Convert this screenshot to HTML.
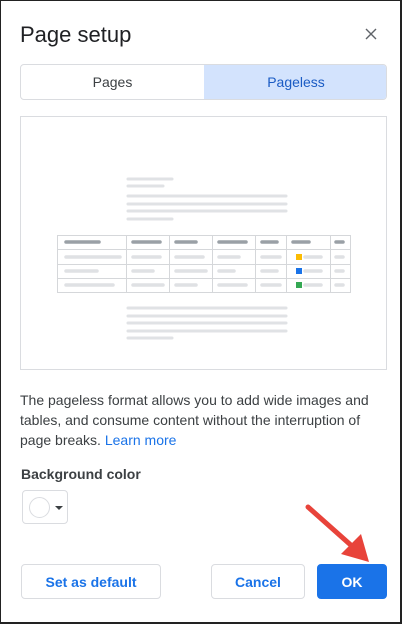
<!DOCTYPE html>
<html><head><meta charset="utf-8"><style>
*{margin:0;padding:0;box-sizing:border-box}
html,body{width:402px;height:624px;overflow:hidden;background:#fff}
body{font-family:"Liberation Sans",sans-serif;position:relative;border:1px solid #222;border-right-width:2px;border-bottom-width:2px}
.a{position:absolute;white-space:nowrap}
.btn{position:absolute;border:1px solid #dadce0;border-radius:4px;color:#1a73e8;font-size:14px;font-weight:bold;display:flex;align-items:center;justify-content:center;background:#fff}
</style></head><body>
<div class="a" style="left:19px;top:21px;font-size:22px;color:#202124">Page setup</div>
<svg class="a" style="left:364px;top:27px" width="12" height="12"><path d="M1 1L11 11M11 1L1 11" stroke="#5f6368" stroke-width="1.4"/></svg>
<div class="a" style="left:19px;top:63px;width:367px;height:36px;border:1px solid #dadce0;border-radius:4px;overflow:hidden;font-size:14px">
 <div class="a" style="left:0;top:0;width:183px;height:34px;display:flex;align-items:center;justify-content:center;color:#3c4043">Pages</div>
 <div class="a" style="left:183px;top:0;width:184px;height:34px;background:#d3e3fd;display:flex;align-items:center;justify-content:center;color:#1a5bc4">Pageless</div>
</div>
<div class="a" style="left:19px;top:115px;width:367px;height:254px;border:1px solid #dadce0"></div>
<svg class="a" style="left:0;top:0" width="402" height="624">
 <g stroke="#e0e2e5" stroke-width="3" stroke-linecap="round">
  <line x1="127" y1="178" x2="171" y2="178"/><line x1="127" y1="185" x2="162" y2="185"/>
  <line x1="127" y1="195" x2="285" y2="195"/><line x1="127" y1="203" x2="285" y2="203"/>
  <line x1="127" y1="210" x2="285" y2="210"/><line x1="127" y1="218" x2="171" y2="218"/>
  <line x1="127" y1="307" x2="285" y2="307"/><line x1="127" y1="315" x2="285" y2="315"/>
  <line x1="127" y1="322" x2="285" y2="322"/><line x1="127" y1="330" x2="285" y2="330"/>
  <line x1="127" y1="337" x2="171" y2="337"/>
 </g>
 <g stroke="#d5d7da" stroke-width="1" fill="none">
  <rect x="56.5" y="234.5" width="293" height="57"/>
  <line x1="56" y1="248.5" x2="350" y2="248.5"/><line x1="56" y1="263.5" x2="350" y2="263.5"/><line x1="56" y1="277.5" x2="350" y2="277.5"/>
  <line x1="125.5" y1="234" x2="125.5" y2="292"/><line x1="168.5" y1="234" x2="168.5" y2="292"/><line x1="211.5" y1="234" x2="211.5" y2="292"/>
  <line x1="254.5" y1="234" x2="254.5" y2="292"/><line x1="285.5" y1="234" x2="285.5" y2="292"/><line x1="329.5" y1="234" x2="329.5" y2="292"/>
 </g>
 <g stroke="#9aa0a6" stroke-width="3.5" stroke-linecap="round">
  <line x1="65" y1="241" x2="98" y2="241"/><line x1="132" y1="241" x2="159" y2="241"/><line x1="175" y1="241" x2="195" y2="241"/>
  <line x1="218" y1="241" x2="245" y2="241"/><line x1="261" y1="241" x2="276" y2="241"/><line x1="292" y1="241" x2="308" y2="241"/><line x1="335" y1="241" x2="342" y2="241"/>
 </g>
 <g stroke="#dfe1e4" stroke-width="3.5" stroke-linecap="round">
  <line x1="65" y1="256" x2="119" y2="256"/><line x1="132" y1="256" x2="159" y2="256"/><line x1="175" y1="256" x2="202" y2="256"/><line x1="218" y1="256" x2="238" y2="256"/><line x1="261" y1="256" x2="279" y2="256"/><line x1="304" y1="256" x2="320" y2="256"/><line x1="335" y1="256" x2="342" y2="256"/>
  <line x1="65" y1="270" x2="96" y2="270"/><line x1="132" y1="270" x2="152" y2="270"/><line x1="175" y1="270" x2="205" y2="270"/><line x1="218" y1="270" x2="233" y2="270"/><line x1="261" y1="270" x2="276" y2="270"/><line x1="304" y1="270" x2="320" y2="270"/><line x1="335" y1="270" x2="342" y2="270"/>
  <line x1="65" y1="284" x2="112" y2="284"/><line x1="132" y1="284" x2="162" y2="284"/><line x1="175" y1="284" x2="195" y2="284"/><line x1="218" y1="284" x2="245" y2="284"/><line x1="261" y1="284" x2="279" y2="284"/><line x1="304" y1="284" x2="320" y2="284"/><line x1="335" y1="284" x2="342" y2="284"/>
 </g>
 <rect x="295" y="253" width="6" height="6" fill="#fbbc04"/>
 <rect x="295" y="267" width="6" height="6" fill="#1a73e8"/>
 <rect x="295" y="281" width="6" height="6" fill="#34a853"/>
</svg>
<div class="a" style="left:19px;top:389px;font-size:14px;line-height:20px;color:#3c4043">The pageless format allows you to add wide images and<br>tables, and consume content without the interruption of<br>page breaks. <span style="color:#1a73e8">Learn more</span></div>
<div class="a" style="left:20px;top:465px;font-size:14px;color:#3c4043;font-weight:bold">Background color</div>
<div class="a" style="left:21px;top:489px;width:46px;height:34px;border:1px solid #dadce0;border-radius:4px">
 <div class="a" style="left:6px;top:6px;width:21px;height:21px;border:1px solid #dadce0;border-radius:50%"></div>
 <div class="a" style="left:32px;top:15px;border-left:4px solid transparent;border-right:4px solid transparent;border-top:4px solid #3c4043"></div>
</div>
<div class="btn" style="left:20px;top:563px;width:140px;height:35px">Set as default</div>
<div class="btn" style="left:210px;top:563px;width:94px;height:35px">Cancel</div>
<div class="btn" style="left:316px;top:563px;width:70px;height:35px;background:#1a73e8;border-color:#1a73e8;color:#fff">OK</div>
<svg class="a" style="left:0;top:0" width="402" height="624">
 <line x1="307" y1="506" x2="352" y2="546" stroke="#e8433a" stroke-width="5" stroke-linecap="round"/>
 <polygon points="368,561 340,553 360,533" fill="#e8433a"/>
</svg>
</body></html>
